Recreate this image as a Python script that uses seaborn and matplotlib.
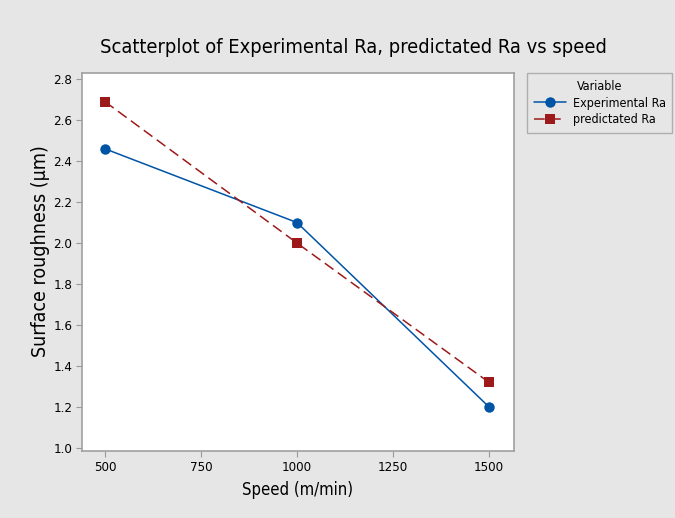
import pandas as pd
import matplotlib
matplotlib.use("Agg")
import matplotlib.pyplot as plt
import seaborn as sns

speed = [500, 1000, 1500]
experimental_ra = [2.46, 2.10, 1.20]
predicted_ra = [2.69, 2.00, 1.32]
series_names = ["Experimental Ra", "predictated Ra"]
y_ticks = [1.0, 1.2, 1.4, 1.6, 1.8, 2.0, 2.2, 2.4, 2.6, 2.8]
x_ticks = [500, 750, 1000, 1250, 1500]

df = pd.DataFrame({
    "Speed": speed * 2,
    "Ra": experimental_ra + predicted_ra,
    "Variable": [series_names[0]] * 3 + [series_names[1]] * 3,
})

sns.set_style("white")
plt.rcParams["font.family"] = ["DejaVu Sans"]
plt.rcParams["font.stretch"] = "condensed"
plt.rcParams["text.color"] = "black"
plt.rcParams["axes.labelcolor"] = "black"
plt.rcParams["xtick.color"] = "black"
plt.rcParams["ytick.color"] = "black"

bg = "#e6e6e6"
fig = plt.figure(figsize=(6.75, 5.18), dpi=100, facecolor=bg)
ax = fig.add_axes([0.1215, 0.1293, 0.64, 0.7297])

palette = {series_names[0]: "#0054a6", series_names[1]: "#9c1a1a"}
sns.lineplot(data=df, x="Speed", y="Ra", hue="Variable", style="Variable",
             palette=palette, markers={series_names[0]: "o", series_names[1]: "s"},
             dashes={series_names[0]: "", series_names[1]: (7, 3.5)},
             markersize=7.5, markeredgewidth=0, linewidth=1.1, ax=ax)

ax.set_xlim(440, 1565)
ax.set_ylim(0.985, 2.83)
ax.set_xticks(x_ticks)
ax.set_yticks(y_ticks)
ax.set_yticklabels([f"{v:.1f}" for v in y_ticks])
ax.tick_params(axis="both", labelsize=9.5, length=4, color="#999999",
               direction="out", bottom=True, left=True, pad=3)
for s in ax.spines.values():
    s.set_color("#a0a0a0")
    s.set_linewidth(1.2)

ax.set_xlabel("Speed (m/min)", fontsize=12, labelpad=5)
ax.set_ylabel("Surface roughness (µm)", fontsize=14)
ax.yaxis.set_label_coords(-0.075, 0.53)
fig.text(0.523, 0.908, "Scatterplot of Experimental Ra, predictated Ra vs speed",
         ha="center", va="center", fontsize=14.4)

leg = ax.legend(title="Variable", loc="upper left", bbox_to_anchor=(1.03, 1.0),
                fontsize=9, title_fontsize=9, frameon=True, fancybox=False,
                handlelength=2.6, handletextpad=0.5, borderpad=0.55,
                labelspacing=0.3, borderaxespad=0)
leg.get_frame().set_edgecolor("#a0a0a0")
leg.get_frame().set_facecolor(bg)
leg.get_frame().set_linewidth(1.0)

fig.savefig("out.png", dpi=100, facecolor=bg)
